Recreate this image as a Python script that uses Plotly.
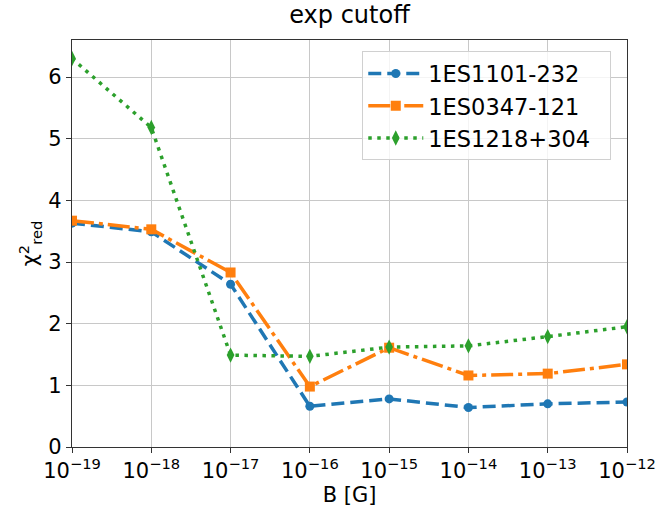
import plotly.graph_objects as go

B = [1e-19, 1e-18, 1e-17, 1e-16, 1e-15, 1e-14, 1e-13, 1e-12]
names = ["1ES1101-232", "1ES0347-121", "1ES1218+304"]
chi_1101 = [3.63, 3.49, 2.64, 0.66, 0.78, 0.64, 0.70, 0.73]
chi_0347 = [3.67, 3.53, 2.83, 0.98, 1.61, 1.16, 1.19, 1.34]
chi_1218 = [6.30, 5.18, 1.49, 1.47, 1.62, 1.64, 1.79, 1.95]
tick_exps = [-19, -18, -17, -16, -15, -14, -13, -12]

colors = ["#1f77b4", "#ff7f0e", "#2ca02c"]
dashes = ["13px,6px", "22px,5px,4px,5px", "3.5px,5.5px"]
symbols = ["circle", "square", "diamond-tall"]
sizes = [9, 10, 11]

fig = go.Figure()
for name, ys, c, d, s, sz in zip(names, [chi_1101, chi_0347, chi_1218], colors, dashes, symbols, sizes):
    fig.add_trace(go.Scatter(
        x=B, y=ys, name=name + "\u00a0\u00a0", mode="lines+markers",
        line=dict(color=c, width=3.5, dash=d),
        marker=dict(color=c, symbol=s, size=sz),
    ))

fig.update_layout(
    width=660, height=509,
    margin=dict(l=72, r=33, t=40, b=62),
    paper_bgcolor="white", plot_bgcolor="white",
    font=dict(family="DejaVu Sans", size=20, color="black"),
    title=dict(text="exp cutoff", x=0.5, xref="paper", xanchor="center",
               y=0.972, yanchor="middle", font=dict(size=24)),
    showlegend=True,
    legend=dict(x=0.523, y=0.972, xanchor="left", yanchor="top",
                bgcolor="rgba(255,255,255,0.8)", bordercolor="#d0d0d0", borderwidth=1,
                font=dict(size=22.5), itemwidth=55, tracegroupgap=2),
)
fig.update_xaxes(
    type="log", range=[-19, -12], automargin=False,
    tickvals=[10.0 ** e for e in tick_exps],
    ticktext=["10<sup>\u2212%d</sup>" % (-e) for e in tick_exps],
    showgrid=True, gridcolor="#c8c8c8", gridwidth=1,
    showline=True, linecolor="#333", linewidth=1.2, mirror=True,
    ticks="outside", ticklen=5, tickcolor="#333",
    title=dict(text="B [G]", font=dict(size=21), standoff=4),
    tickfont=dict(size=21),
)
fig.update_yaxes(
    range=[0, 6.6], tickvals=[0, 1, 2, 3, 4, 5, 6], automargin=False,
    showgrid=True, gridcolor="#c8c8c8", gridwidth=1,
    showline=True, linecolor="#333", linewidth=1.2, mirror=True,
    ticks="outside", ticklen=5, tickcolor="#333",
    title=dict(text="\u03c7<sup>2</sup><sub>red</sub>", font=dict(size=21), standoff=4),
    tickfont=dict(size=21), zeroline=False,
)
fig.write_html("out.html")
